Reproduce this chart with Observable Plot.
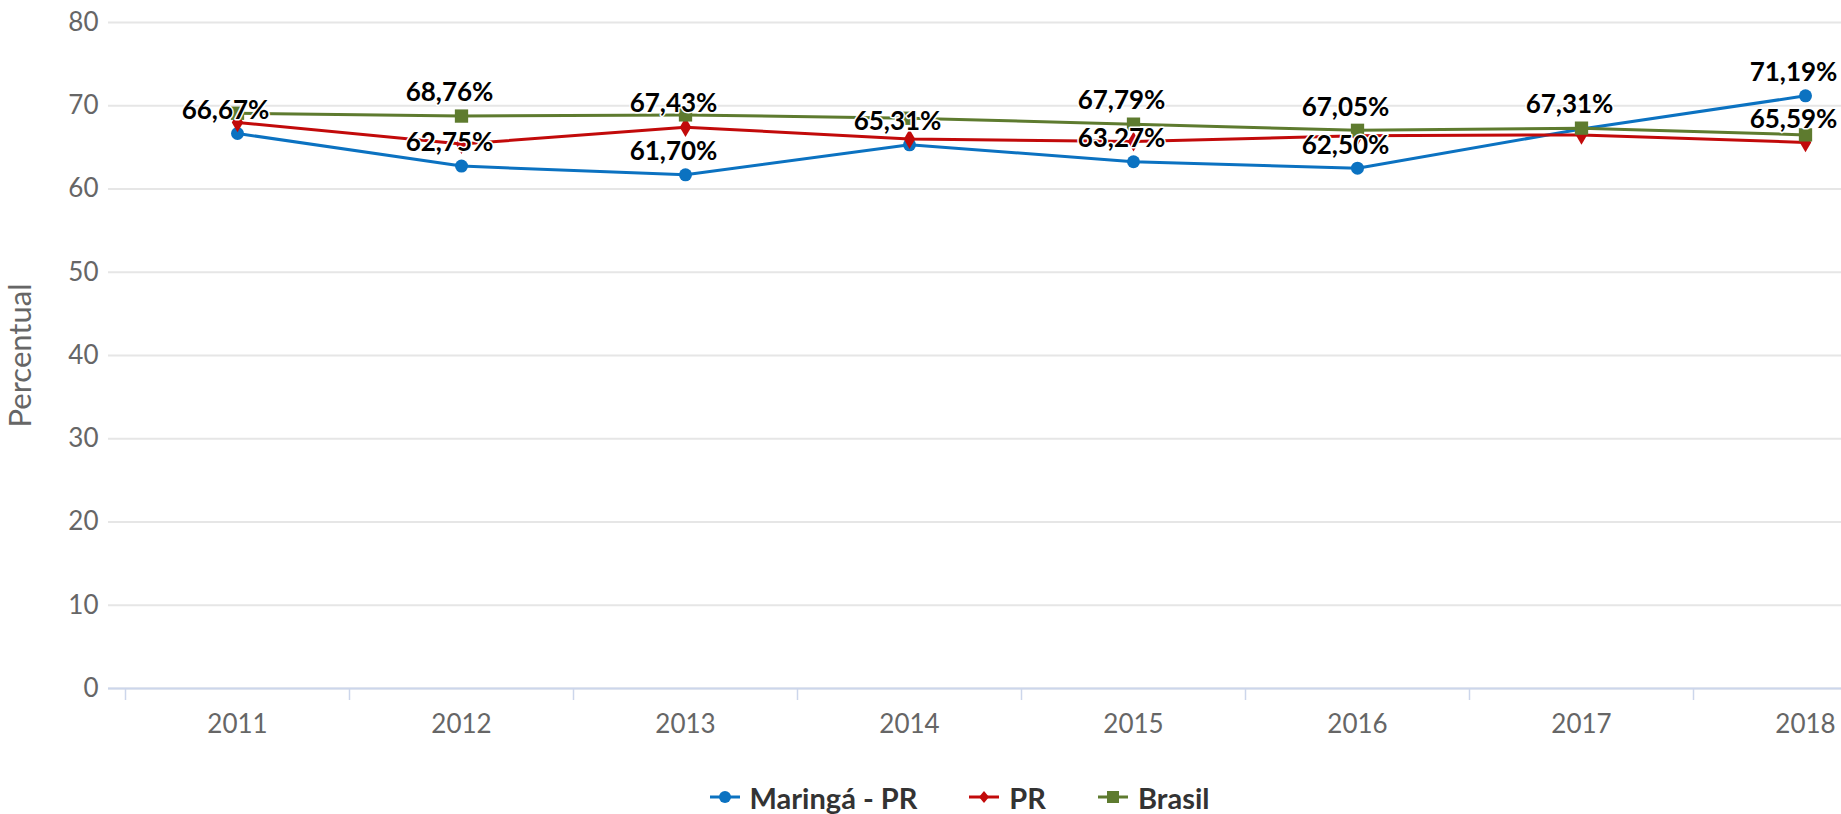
<!DOCTYPE html>
<html>
<head>
<meta charset="utf-8">
<script src="https://cdn.jsdelivr.net/npm/d3@7"></script>
<script src="https://cdn.jsdelivr.net/npm/@observablehq/plot@0.6"></script>
<style>
  html, body { margin: 0; padding: 0; background: #fff; overflow: hidden; }
  #chart { width: 1841px; }
  #legend { display: flex; justify-content: center; align-items: center; height: 54px; padding-top: 10px; padding-left: 78px; font-family: Lato, sans-serif; font-weight: bold; font-size: 29px; color: #333; }
  .item { display: flex; align-items: center; margin: 0 26px; }
  .item svg { margin-right: 10px; }
</style>
</head>
<body>
<div id="chart"></div>
<div id="legend"></div>
<script>
const years = ["2011", "2012", "2013", "2014", "2015", "2016", "2017", "2018"];
const seriesNames = ["Maringá - PR", "PR", "Brasil"];
const seriesColors = ["#0b72c1", "#c20a0a", "#5e7b2f"];
const seriesSymbols = ["circle", "diamond", "square"];
const maringa = [66.67, 62.75, 61.70, 65.31, 63.27, 62.50, 67.20, 71.19];
const pr = [68.00, 65.40, 67.43, 66.00, 65.70, 66.40, 66.50, 65.59];
const brasil = [69.10, 68.76, 68.90, 68.50, 67.79, 67.05, 67.31, 66.50];
const labelsMaringa = ["2011", "2012", "2013", "2014", "2015", "2016", "2018"];
const labelsPR = ["2013", "2018"];
const labelsBrasil = ["2012", "2015", "2016", "2017"];
const yTicks = [0, 10, 20, 30, 40, 50, 60, 70, 80];

const values = [maringa, pr, brasil];
const shown = [labelsMaringa, labelsPR, labelsBrasil];
const rows = [];
seriesNames.forEach((s, i) => years.forEach((y, j) => rows.push({series: s, year: y, value: values[i][j], label: shown[i].includes(y)})));
const fmt = v => v.toFixed(2).replace(".", ",") + "%";

// layout
const W = 1841, H = 760;
const band = 224, x0 = 125;
const dotR = [6.5, 6, 7.5];

const seriesMarks = [];
seriesNames.forEach((s, i) => {
  const d = rows.filter(r => r.series === s);
  seriesMarks.push(Plot.line(d, {x: "year", y: "value", stroke: seriesColors[i], strokeWidth: 3}));
  seriesMarks.push(Plot.dot(d, {x: "year", y: "value", fill: seriesColors[i], symbol: seriesSymbols[i], r: dotR[i], stroke: null}));
});

const chart = Plot.plot({
  width: W,
  height: H,
  marginLeft: 108,
  marginRight: 0,
  marginTop: 22,
  marginBottom: 72,
  style: {fontFamily: "Lato, sans-serif", background: "white", overflow: "hidden"},
  x: {type: "band", domain: years, range: [x0, x0 + band * years.length], padding: 0},
  y: {domain: [0, 80]},
  marks: [
    Plot.gridY(yTicks, {stroke: "#e6e6e6", strokeOpacity: 1, strokeWidth: 2}),
    Plot.ruleY([0], {stroke: "#ccd6eb", strokeWidth: 2}),
    Plot.axisY(yTicks, {tickSize: 0, tickPadding: 10, fontSize: 26, fill: "#666", label: null}),
    Plot.axisY({tickSize: 0, tickFormat: () => "", fontSize: 31, fill: "#666", label: "Percentual", labelAnchor: "center", labelOffset: 100, labelArrow: "none"}),
    Plot.axisX({tickSize: 12, tickFormat: () => "", dx: -band / 2, stroke: "#ccd6eb", strokeWidth: 1.5, label: null}),
    Plot.axisX({tickSize: 0, tickPadding: 26, fontSize: 26, fill: "#666", label: null}),
    ...seriesMarks,
    Plot.text(rows.filter(r => r.label), {x: "year", y: "value", text: d => fmt(d.value), dy: -23, dx: -12, fontSize: 26, fontWeight: "bold", fill: "#000", stroke: "white", strokeWidth: 3, paintOrder: "stroke"})
  ]
});
document.getElementById("chart").appendChild(chart);

const legend = document.getElementById("legend");
seriesNames.forEach((s, i) => {
  const item = document.createElement("div");
  item.className = "item";
  const sym = seriesSymbols[i] === "circle" ? `<circle cx="15" cy="10" r="6" fill="${seriesColors[i]}"/>`
    : seriesSymbols[i] === "diamond" ? `<path d="M15 4 L20 10 L15 16 L10 10 Z" fill="${seriesColors[i]}"/>`
    : `<rect x="9" y="4" width="12" height="12" fill="${seriesColors[i]}"/>`;
  item.innerHTML = `<svg width="30" height="20"><line x1="0" y1="10" x2="30" y2="10" stroke="${seriesColors[i]}" stroke-width="3"/>${sym}</svg><span>${s}</span>`;
  legend.appendChild(item);
});
</script>
</body>
</html>
